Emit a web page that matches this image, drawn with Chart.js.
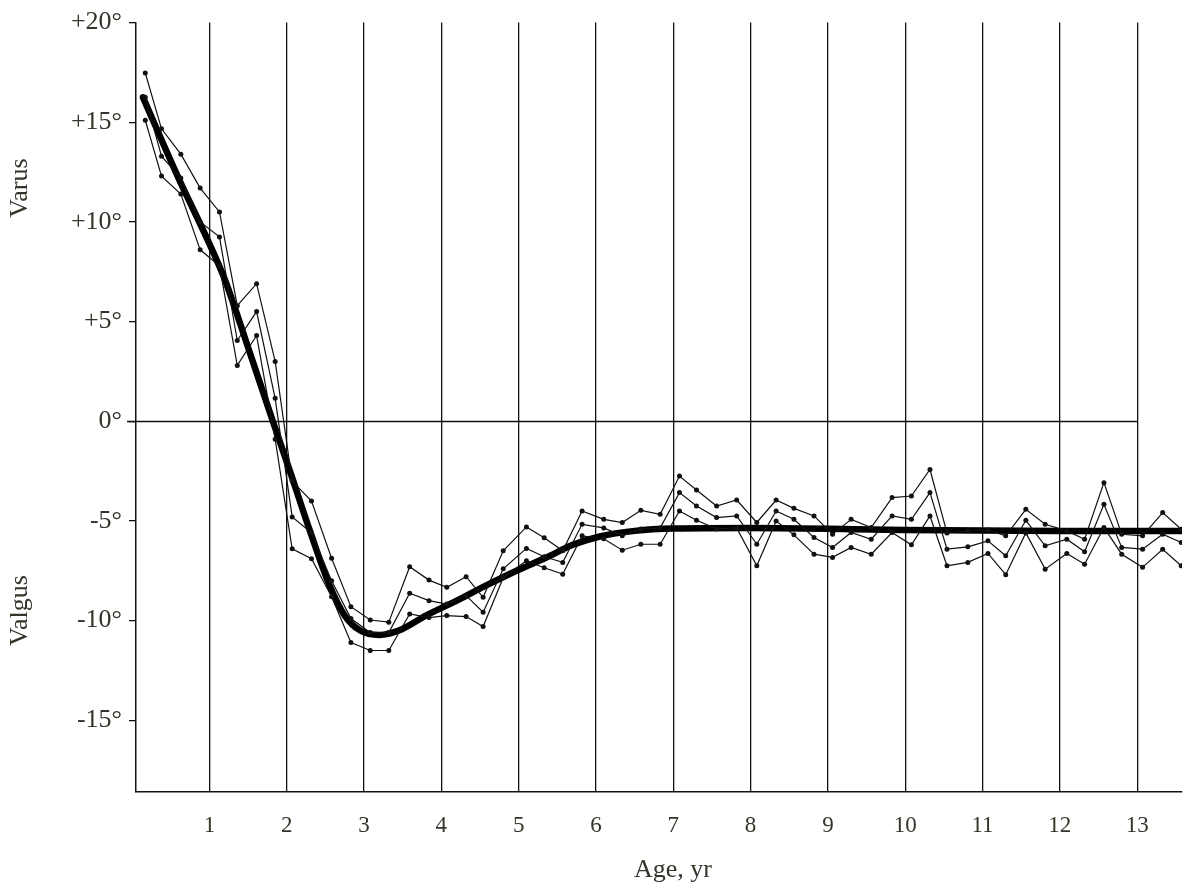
<!DOCTYPE html>
<html>
<head>
<meta charset="utf-8">
<script src="https://cdn.jsdelivr.net/npm/chart.js@4/dist/chart.umd.min.js"></script>
<style>
  body { margin: 0; background: #fff; }
  #wrap { width: 1186px; height: 888px; position: relative; }
</style>
</head>
<body>
<div id="wrap"><canvas id="angleChart"></canvas></div>
<script>
// ages (yr) at which the three thin curves are sampled
const ages = [0.17, 0.38, 0.63, 0.88, 1.13, 1.36, 1.61, 1.85, 2.07, 2.32,
              2.58, 2.83, 3.08, 3.32, 3.59, 3.84, 4.07, 4.32, 4.54, 4.80,
              5.10, 5.33, 5.57, 5.82, 6.10, 6.34, 6.58, 6.83, 7.08, 7.30,
              7.56, 7.82, 8.08, 8.33, 8.56, 8.82, 9.06, 9.30, 9.56, 9.83,
              10.08, 10.32, 10.54, 10.81, 11.07, 11.30, 11.56, 11.81, 12.09, 12.32,
              12.57, 12.80, 13.07, 13.33, 13.57];

const upperCurve = [17.47, 14.67, 13.4, 11.7, 10.5, 5.8, 6.9, 3.0, -3.0, -4.0,
                    -6.87, -9.3, -9.97, -10.08, -7.3, -7.97, -8.33, -7.8, -8.83, -6.5,
                    -5.3, -5.85, -6.5, -4.5, -4.92, -5.08, -4.47, -4.67, -2.75, -3.45,
                    -4.25, -3.95, -5.08, -3.95, -4.37, -4.75, -5.67, -4.92, -5.33, -3.83,
                    -3.75, -2.42, -5.6, -5.5, -5.45, -5.75, -4.42, -5.17, -5.5, -5.92,
                    -3.08, -5.67, -5.75, -4.58, -5.42];

const middleCurve = [16.25, 13.3, 12.2, 10.0, 9.25, 4.05, 5.5, 1.15, -4.8, -5.6,
                     -8.0, -9.9, -10.6, -10.6, -8.63, -9.0, -9.17, -8.75, -9.58, -7.4,
                     -6.38, -6.8, -7.08, -5.17, -5.35, -5.75, -5.4, -5.35, -3.58, -4.25,
                     -4.83, -4.75, -6.17, -4.5, -4.92, -5.83, -6.33, -5.58, -5.92, -4.75,
                     -4.92, -3.58, -6.42, -6.3, -6.0, -6.75, -4.97, -6.25, -5.92, -6.55,
                     -4.17, -6.33, -6.42, -5.67, -6.08];

const lowerCurve = [15.1, 12.3, 11.4, 8.6, 7.8, 2.8, 4.3, -0.9, -6.4, -6.9,
                    -8.8, -11.1, -11.5, -11.5, -9.67, -9.85, -9.75, -9.8, -10.3, -7.85,
                    -7.0, -7.35, -7.67, -5.75, -5.9, -6.47, -6.17, -6.17, -4.5, -4.97,
                    -5.4, -5.35, -7.25, -5.0, -5.7, -6.67, -6.83, -6.33, -6.67, -5.58,
                    -6.2, -4.75, -7.25, -7.08, -6.63, -7.7, -5.6, -7.42, -6.63, -7.17,
                    -5.33, -6.67, -7.33, -6.42, -7.25];

// smoothed mean curve (thick line)
const trendAges = [0.14, 0.6, 1.0, 1.2, 1.5, 1.82, 2.05, 2.3, 2.55, 2.75,
                   2.95, 3.2, 3.45, 3.8, 4.2, 4.6, 5.0, 5.35, 5.7, 6.05,
                   6.5, 7.0, 8, 10, 12, 13.6];
const trendValues = [16.25, 12.2, 8.9, 7.1, 3.7, 0, -2.6, -5.5, -8.2, -9.75,
                     -10.5, -10.72, -10.5, -9.75, -9.0, -8.2, -7.45, -6.85, -6.2, -5.78,
                     -5.5, -5.38, -5.35, -5.45, -5.5, -5.5];

const xTickValues = [1, 2, 3, 4, 5, 6, 7, 8, 9, 10, 11, 12, 13];
const yTickValues = [-15, -10, -5, 0, 5, 10, 15, 20];

const toPoints = (xs, ys) => xs.map((x, i) => ({ x: x, y: ys[i] }));

const textColor = '#34342a';
const serif = '"Liberation Serif", "Times New Roman", serif';

const thinStyle = {
    borderColor: '#111',
    backgroundColor: '#111',
    borderWidth: 1.2,
    pointRadius: 2.5,
    pointBorderWidth: 0,
    pointBackgroundColor: '#111',
    tension: 0
};

// zero line, axis titles
const extras = {
    id: 'extras',
    beforeDatasetsDraw(chart) {
        const { ctx, scales: { x, y } } = chart;
        const y0 = Math.round(y.getPixelForValue(0)) + 0.5;
        ctx.save();
        ctx.strokeStyle = '#111';
        ctx.lineWidth = 1.3;
        ctx.beginPath();
        ctx.moveTo(y.right - 9, y0);
        ctx.lineTo(x.getPixelForValue(13), y0);
        ctx.stroke();
        ctx.restore();
    },
    afterDraw(chart) {
        const { ctx, scales: { y } } = chart;
        const label = (text, px, py, rotate) => {
            ctx.save();
            ctx.fillStyle = textColor;
            ctx.font = '26px ' + serif;
            ctx.textAlign = 'center';
            ctx.textBaseline = 'middle';
            ctx.translate(px, py);
            if (rotate) ctx.rotate(-Math.PI / 2);
            ctx.fillText(text, 0, 0);
            ctx.restore();
        };
        label('Age, yr', 673, 870, false);
        label('Varus', 20, y.getPixelForValue(11.7), true);
        label('Valgus', 20, y.getPixelForValue(-9.5), true);
    }
};

const ctx = document.getElementById('angleChart').getContext('2d');
const angleChart = new Chart(ctx, {
    type: 'line',
    data: {
        datasets: [
            Object.assign({ label: 'upper', data: toPoints(ages, upperCurve) }, thinStyle),
            Object.assign({ label: 'middle', data: toPoints(ages, middleCurve) }, thinStyle),
            Object.assign({ label: 'lower', data: toPoints(ages, lowerCurve) }, thinStyle),
            {
                label: 'mean',
                data: toPoints(trendAges, trendValues),
                borderColor: '#000',
                borderWidth: 6.5,
                pointRadius: 0,
                cubicInterpolationMode: 'monotone',
                borderCapStyle: 'round'
            }
        ]
    },
    options: {
        responsive: true,
        maintainAspectRatio: false,
        animation: false,
        layout: { padding: { top: 20, right: 0, bottom: 0, left: 0 } },
        plugins: { legend: { display: false }, tooltip: { enabled: false } },
        scales: {
            x: {
                type: 'linear',
                min: 0.05,
                max: 13.58,
                afterBuildTicks: (scale) => { scale.ticks = xTickValues.map(v => ({ value: v })); },
                afterFit: (scale) => { scale.height = 96; },
                ticks: {
                    color: textColor,
                    padding: 20,
                    maxRotation: 0,
                    autoSkip: false,
                    font: { family: serif, size: 23 }
                },
                grid: { color: '#111', lineWidth: 1.3, drawTicks: false },
                border: { color: '#111', width: 1.5 }
            },
            y: {
                min: -18.6,
                max: 20,
                afterBuildTicks: (scale) => { scale.ticks = yTickValues.map(v => ({ value: v })); },
                afterFit: (scale) => { scale.width = 136; },
                ticks: {
                    color: textColor,
                    padding: 7,
                    font: { family: serif, size: 26 },
                    callback: (v) => (v > 0 ? '+' + v : '' + v) + '°'
                },
                grid: { drawOnChartArea: false, color: '#111', lineWidth: 1.3, tickLength: 7 },
                border: { color: '#111', width: 1.5 }
            }
        }
    },
    plugins: [extras]
});
</script>
</body>
</html>
